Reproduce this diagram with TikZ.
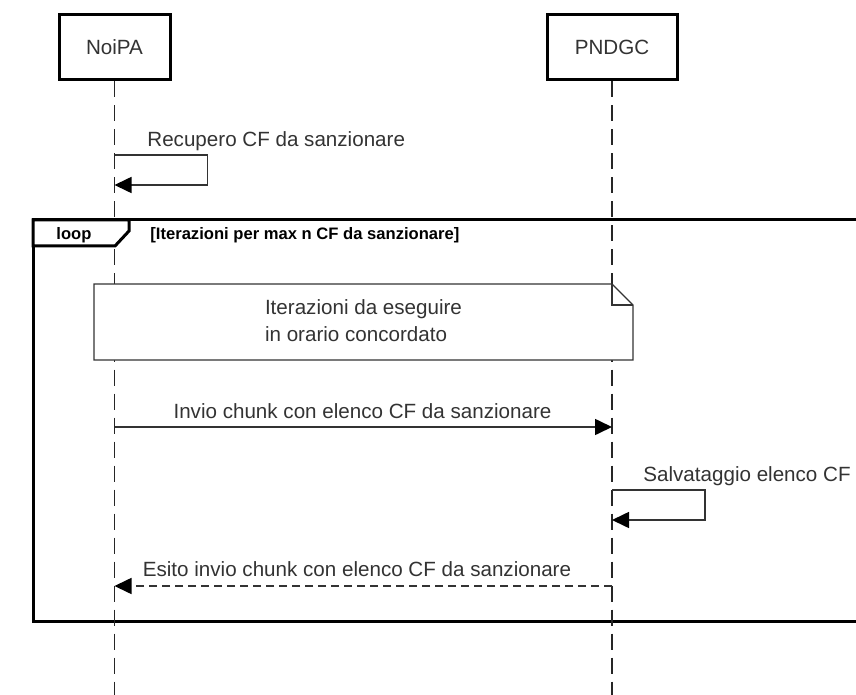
\documentclass[tikz,border=0pt]{standalone}
\usepackage{fontspec}
\setmainfont{Liberation Sans}
\usetikzlibrary{arrows.meta, positioning}
\definecolor{txtgray}{HTML}{333333}
\definecolor{linegray}{HTML}{333333}

\begin{document}
\begin{tikzpicture}[x=0.5pt, y=-0.5pt]
		\tikzstyle{Actor} = [rectangle, minimum height=32.5pt, text centered, draw=black, fill=white, line width=1.5pt, text=txtgray, font=\fontsize{10.3}{12}\selectfont]
		\tikzstyle{Life} = [draw=black!85, line width=0.8pt, dash pattern=on 8pt off 4pt]
		\tikzstyle{Msg} = [draw=linegray, line width=0.8pt, -{Triangle[length=8.5pt, width=8pt, fill=black, color=black]}]
		\tikzstyle{Reply} = [Msg, dash pattern=on 4pt off 2.5pt]
		\tikzstyle{Label} = [inner sep=0pt, text=txtgray, font=\fontsize{10.3}{12}\selectfont]
		\tikzstyle{Guard} = [inner sep=0pt, text=black, font=\bfseries\fontsize{8.3}{10}\selectfont]
		\tikzstyle{Frame} = [draw=black, line width=1.5pt]
		\tikzstyle{NoteLine} = [draw=linegray, line width=0.6pt, fill=white]
		
		\clip (0,0) rectangle (856,695);
		
		% partecipanti
		\node (noipa) [Actor, minimum width=55.5pt] at (114.5,47.5) {NoiPA};
		\node (pndgc) [Actor, minimum width=65pt] at (612,47.5) {PNDGC};
		\coordinate (noipaEnd) at (noipa.south |- 0,700);
		\coordinate (pndgcEnd) at (pndgc.south |- 0,700);
		
		% frame loop
		\draw[Frame] (33,220) rectangle (880,621);
		\draw[Life] (noipa.south) -- (noipaEnd);
		\draw[Life] (pndgc.south) -- (pndgcEnd);
		\draw[Frame, fill=white] (33,220) -- (129,220) -- (129,231) -- (115,246) -- (33,246) -- cycle;
		\node (loop) [Guard, anchor=base] at (74,240) {loop};
		\node (guard) [Guard, anchor=base west] at (150,240) {[Iterazioni per max n CF da sanzionare]};
		
		% nota
		\draw[NoteLine] (94,284) -- (612,284) -- (633,305) -- (633,360) -- (94,360) -- cycle;
		\draw[NoteLine, fill=none] (612,284) -- (612,305) -- (633,305);
		\node (nota) [Label, align=left] at (363.5,321) {Iterazioni da eseguire\\[1.5pt]in orario concordato};
		
		% messaggi
		\coordinate (rec1) at (noipa.south |- 0,155);
		\coordinate (rec2) at (noipa.south |- 0,185);
		\draw[Msg] (rec1) -- ++(93,0) |- (rec2);
		\node (recLbl) [Label, anchor=base west] at (147,147) {Recupero CF da sanzionare};
		
		\coordinate (inv1) at (noipa.south |- 0,427);
		\coordinate (inv2) at (pndgc.south |- 0,427);
		\draw[Msg] (inv1) -- (inv2);
		\node (invLbl) [Label, anchor=base] at (362.5,418) {Invio chunk con elenco CF da sanzionare};
		
		\coordinate (sal1) at (pndgc.south |- 0,490);
		\coordinate (sal2) at (pndgc.south |- 0,520);
		\draw[Msg] (sal1) -- ++(93,0) |- (sal2);
		\node (salLbl) [Label, anchor=base west] at (643,481) {Salvataggio elenco CF};
		
		\coordinate (esi1) at (pndgc.south |- 0,586);
		\coordinate (esi2) at (noipa.south |- 0,586);
		\draw[Reply] (esi1) -- (esi2);
		\node (esiLbl) [Label, anchor=base] at (357,576) {Esito invio chunk con elenco CF da sanzionare};
\end{tikzpicture}
\end{document}
